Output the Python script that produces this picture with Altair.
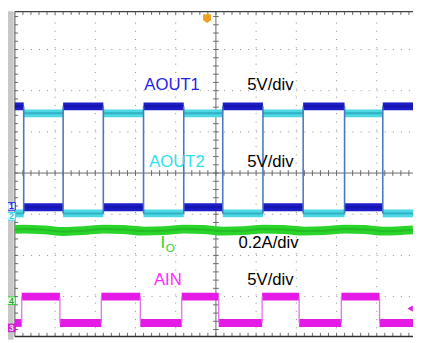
import altair as alt
import pandas as pd

# Coordinates are in scope divisions: x = time divisions from left frame edge,
# y = divisions from the screen centre line (positive up).
X_MIN, X_MAX = -0.171, 9.902
Y_MIN, Y_MAX = -4.048, 3.929
Y_BOT, Y_TOP = -3.97, 3.92

# switching edges (divisions)
aout_edges = [0.22, 1.20, 2.20, 3.20, 4.20, 5.17, 6.17, 7.17, 8.20, 9.15]
ain_edges = [0.17, 1.12, 2.15, 3.12, 4.15, 5.07, 6.15, 7.07, 8.12, 9.07]
aout1_levels = [1.62, -0.83]   # starts high
aout2_levels = [-0.98, 1.45]   # starts low
ain_levels = [-3.64, -3.00]    # starts low

# output current trace (divisions)
io_x = [0.0, 0.24, 0.73, 1.22, 1.71, 2.20, 2.68, 3.22, 3.71, 4.20, 4.68,
        5.20, 5.68, 6.17, 6.66, 7.20, 7.68, 8.20, 8.68, 9.20, 9.90]
io_y = [-1.37, -1.36, -1.38, -1.42, -1.40, -1.36, -1.37, -1.41, -1.40, -1.36, -1.37,
        -1.41, -1.40, -1.36, -1.37, -1.41, -1.40, -1.36, -1.37, -1.41, -1.38]

xs = alt.Scale(domain=[X_MIN, X_MAX], nice=False, zero=False)
ys = alt.Scale(domain=[Y_MIN, Y_MAX], nice=False, zero=False)


def X(f="x"):
    return alt.X(f"{f}:Q", scale=xs, axis=None)


def Y(f="y"):
    return alt.Y(f"{f}:Q", scale=ys, axis=None)


def segments(edges, levels):
    bounds = [0.0] + edges + [X_MAX]
    return pd.DataFrame({
        "x": bounds[:-1],
        "x2": bounds[1:],
        "y": [levels[i % 2] for i in range(len(bounds) - 1)],
    })


def transitions(edges, lo, hi):
    return pd.DataFrame({"x": edges, "y": [lo] * len(edges), "y2": [hi] * len(edges)})


def hband(df, color, width, opacity=1.0):
    return alt.Chart(df).mark_rule(color=color, strokeWidth=width, opacity=opacity).encode(
        x=X(), x2=alt.X2("x2"), y=Y())


def vrule(df, color, width, dash=None):
    kw = dict(color=color, strokeWidth=width)
    if dash:
        kw["strokeDash"] = dash
    return alt.Chart(df).mark_rule(**kw).encode(x=X(), y=Y(), y2=alt.Y2("y2"))


def hrule(df, color, width, dash=None):
    kw = dict(color=color, strokeWidth=width)
    if dash:
        kw["strokeDash"] = dash
    return alt.Chart(df).mark_rule(**kw).encode(x=X(), x2=alt.X2("x2"), y=Y())


def label(text, x, y, color, size=17, weight="normal", align="left"):
    return alt.Chart(pd.DataFrame({"x": [x], "y": [y], "t": [text]})).mark_text(
        font="Liberation Sans", fontSize=size, color=color, align=align,
        baseline="middle", fontWeight=weight).encode(x=X(), y=Y(), text="t:N")


# ---- frame and graticule ----
strip = alt.Chart(pd.DataFrame({"x": [X_MIN], "x2": [-0.03], "y": [Y_MIN], "y2": [Y_MAX]})).mark_rect(
    color="#c8c8c8").encode(x=X(), x2=alt.X2("x2"), y=Y(), y2=alt.Y2("y2"))

vmajor = [1, 2, 3, 4, 6, 7, 8, 9]
hmajor = [-3, -2, -1, 1, 2, 3]
vgrid = vrule(pd.DataFrame({"x": vmajor, "y": [Y_BOT] * 8, "y2": [Y_TOP] * 8}), "#8c8c8c", 1, [1, 7.4])
hgrid = hrule(pd.DataFrame({"y": hmajor, "x": [0.0] * 6, "x2": [X_MAX] * 6}), "#8c8c8c", 1, [1, 7.2])

cv = vrule(pd.DataFrame({"x": [5.0], "y": [Y_BOT], "y2": [Y_TOP]}), "#6a6a6a", 1)
ch = hrule(pd.DataFrame({"y": [0.0], "x": [0.0], "x2": [X_MAX]}), "#6a6a6a", 1)

minor_y = [k * 0.2 for k in range(-19, 20)]
minor_x = [k * 0.2 for k in range(1, 50)]
ticks_v = pd.DataFrame(
    [{"x": 5.0 - 0.07, "x2": 5.0 + 0.07, "y": v} for v in minor_y]
    + [{"x": 0.0, "x2": 0.08, "y": v} for v in minor_y])
ticks_h = pd.DataFrame(
    [{"x": v, "y": -0.07, "y2": 0.07} for v in minor_x]
    + [{"x": v, "y": Y_BOT, "y2": Y_BOT + 0.09} for v in minor_x]
    + [{"x": v, "y": Y_TOP - 0.08, "y2": Y_TOP} for v in minor_x])
tv = hrule(ticks_v, "#6a6a6a", 1)
th = vrule(ticks_h, "#6a6a6a", 1)

left_b = vrule(pd.DataFrame({"x": [0.0], "y": [Y_BOT], "y2": [Y_TOP]}), "#4a4a4a", 1)
bot_b = hrule(pd.DataFrame({"y": [Y_BOT], "x": [0.0], "x2": [X_MAX]}), "#303030", 1.6)
top_b = hrule(pd.DataFrame({"y": [Y_TOP], "x": [0.0], "x2": [X_MAX]}), "#404040", 1.2)

# ---- traces ----
a1 = segments(aout_edges, aout1_levels)
a2 = segments(aout_edges, aout2_levels)
ai = segments(ain_edges, ain_levels)

aout_tr = vrule(transitions(aout_edges, min(aout2_levels), max(aout1_levels)), "#4a78c0", 1.6)
ain_tr = vrule(transitions(ain_edges, ain_levels[0], ain_levels[1]), "#e070e8", 1.3)

a2_band = hband(a2, "#4cd8e4", 8)
a2_core = hband(a2, "#2aa8bc", 2, 0.8)
a1_band = hband(a1, "#1c1cc8", 8)
a1_core = hband(a1, "#10109a", 2, 0.6)
ai_band = hband(ai, "#e61ae6", 8)

io_line = alt.Chart(pd.DataFrame({"x": io_x, "y": io_y})).mark_line(
    color="#2ad42a", strokeWidth=9, interpolate="monotone").encode(x=X(), y=Y())
io_core = alt.Chart(pd.DataFrame({"x": io_x, "y": io_y})).mark_line(
    color="#1ca81c", strokeWidth=2, opacity=0.5, interpolate="monotone").encode(x=X(), y=Y())

# ---- labels ----
texts = [
    label("AOUT1", 3.22, 2.14, "#2424e6"),
    label("5V/div", 5.78, 2.14, "#000000"),
    label("AOUT2", 3.34, 0.26, "#2ee0ee"),
    label("5V/div", 5.78, 0.26, "#000000"),
    label("I", 3.62, -1.69, "#2ad42a"),
    label("O", 3.75, -1.82, "#2ad42a", size=12),
    label("0.2A/div", 5.56, -1.71, "#000000"),
    label("AIN", 3.46, -2.60, "#ff2cff"),
    label("5V/div", 5.78, -2.60, "#000000"),
]

# ---- channel badges and markers ----
def badge(digit, y, stroke, fill, tcolor):
    d = pd.DataFrame({"x": [-0.085], "y": [y], "t": [digit]})
    box = alt.Chart(d).mark_square(size=60, fill=fill, stroke=stroke, strokeWidth=1,
                                   opacity=1, fillOpacity=1).encode(x=X(), y=Y())
    txt = alt.Chart(d).mark_text(font="Liberation Sans", fontSize=9, fontWeight="bold",
                                 color=tcolor, align="center", baseline="middle").encode(
        x=X(), y=Y(), text="t:N")
    return [box, txt]


badges = (badge("1", -0.81, "#2424e6", "#ffffff", "#2424e6")
          + badge("2", -1.05, "#2ee0ee", "#ffffff", "#2ec8dc")
          + badge("4", -3.10, "#2ad42a", "#f4fff4", "#2aa02a")
          + badge("3", -3.76, "#d020d0", "#d020d0", "#ffe0ff"))

trig_pos = alt.Chart(pd.DataFrame({"x": [4.78], "y": [3.76]})).mark_point(
    shape="M-1,-1L1,-1L1,0.5L0,1.2L-1,0.5Z", size=64, filled=True, color="#f0a020",
    opacity=1).encode(x=X(), y=Y())
trig_lvl = alt.Chart(pd.DataFrame({"x": [9.83], "y": [-3.29]})).mark_point(
    shape="triangle-left", size=40, filled=True, color="#e020e0", opacity=1).encode(x=X(), y=Y())

chart = alt.layer(
    strip, vgrid, hgrid, cv, ch, tv, th, left_b, bot_b, top_b,
    a2_band, a2_core, a1_band, a1_core, aout_tr,
    io_line, io_core, ai_band, ain_tr,
    *texts, *badges, trig_pos, trig_lvl,
).properties(
    width=413, height=335, padding=0,
    autosize=alt.AutoSizeParams(type="none"),
).configure_view(strokeWidth=0)

chart.save("out.html", embed_options={"renderer": "svg", "actions": False})
